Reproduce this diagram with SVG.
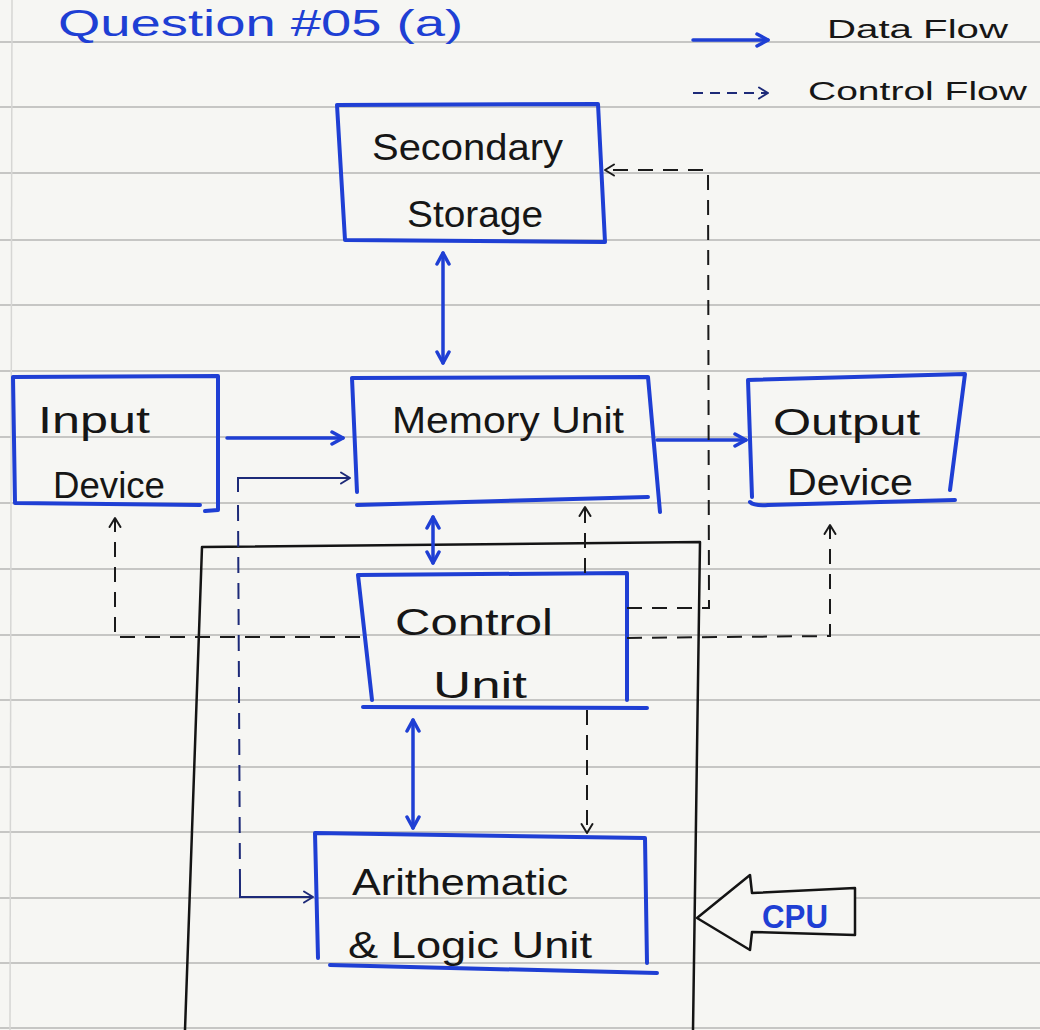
<svg xmlns="http://www.w3.org/2000/svg" width="1040" height="1030" viewBox="0 0 1040 1030">
  <defs>
    <style>
      .paper { fill: #f6f6f3; }
      .rule { stroke: #c6c6c4; stroke-width: 2; }
      .box { fill: none; stroke: #1f3fd4; stroke-width: 4; stroke-linecap: round; stroke-linejoin: round; }
      .lbl { font-family: "Liberation Sans", Arial, sans-serif; font-size: 36px; fill: #161616; }
      .data { fill: none; stroke: #1f3fd4; stroke-width: 3.5; stroke-linecap: round; }
      .ctrl { fill: none; stroke: #1a1a1a; stroke-width: 2; stroke-dasharray: 15 10; }
      .thin { fill: none; stroke: #1d2a78; stroke-width: 2; }
      .thind { fill: none; stroke: #1d2a78; stroke-width: 2; stroke-dasharray: 16 10; }
      .cpu { fill: none; stroke: #141414; stroke-width: 2.5; stroke-linejoin: round; }
    </style>
    <marker id="mData" viewBox="0 0 16 16" markerUnits="userSpaceOnUse" markerWidth="16" markerHeight="16" refX="14" refY="8" orient="auto-start-reverse">
      <path d="M3,2 L14,8 L3,14" fill="none" stroke="#1f3fd4" stroke-width="3.5" stroke-linecap="round" stroke-linejoin="round"/>
    </marker>
    <marker id="mCtrl" viewBox="0 0 14 14" markerUnits="userSpaceOnUse" markerWidth="14" markerHeight="14" refX="12" refY="7" orient="auto-start-reverse">
      <path d="M3,1.5 L12,7 L3,12.5" fill="none" stroke="#1a1a1a" stroke-width="2" stroke-linecap="round" stroke-linejoin="round"/>
    </marker>
    <marker id="mThin" viewBox="0 0 14 14" markerUnits="userSpaceOnUse" markerWidth="14" markerHeight="14" refX="12" refY="7" orient="auto-start-reverse">
      <path d="M3,1.5 L12,7 L3,12.5" fill="none" stroke="#1d2a78" stroke-width="2" stroke-linecap="round" stroke-linejoin="round"/>
    </marker>
  </defs>

  <!-- paper background -->
  <g id="paper">
    <rect class="paper" x="0" y="0" width="1040" height="1030"/>
    <line class="rule" x1="0" y1="42" x2="1040" y2="42"/>
    <line class="rule" x1="0" y1="107" x2="1040" y2="107"/>
    <line class="rule" x1="0" y1="173" x2="1040" y2="173"/>
    <line class="rule" x1="0" y1="240" x2="1040" y2="240"/>
    <line class="rule" x1="0" y1="305" x2="1040" y2="305"/>
    <line class="rule" x1="0" y1="371" x2="1040" y2="371"/>
    <line class="rule" x1="0" y1="437" x2="1040" y2="437"/>
    <line class="rule" x1="0" y1="503" x2="1040" y2="503"/>
    <line class="rule" x1="0" y1="569" x2="1040" y2="569"/>
    <line class="rule" x1="0" y1="635" x2="1040" y2="635"/>
    <line class="rule" x1="0" y1="700" x2="1040" y2="700"/>
    <line class="rule" x1="0" y1="767" x2="1040" y2="767"/>
    <line class="rule" x1="0" y1="832" x2="1040" y2="832"/>
    <line class="rule" x1="0" y1="898" x2="1040" y2="898"/>
    <line class="rule" x1="0" y1="963" x2="1040" y2="963"/>
    <line class="rule" x1="0" y1="1028" x2="1040" y2="1028"/>
    <line x1="12" y1="0" x2="10" y2="1030" stroke="#d6d6d4" stroke-width="1.5"/>
  </g>

  <!-- title and legend -->
  <g id="title">
    <text x="58" y="36" font-family="Liberation Sans, Arial, sans-serif" font-size="36" fill="#1e3fd4" textLength="405" lengthAdjust="spacingAndGlyphs">Question #05 (a)</text>
  </g>
  <g id="legend">
    <path class="data" d="M693,40 L768,40" marker-end="url(#mData)"/>
    <text x="827" y="38" font-family="Liberation Sans, Arial, sans-serif" font-size="25" fill="#161616" textLength="181" lengthAdjust="spacingAndGlyphs">Data Flow</text>
    <path d="M693,93 L768,93" fill="none" stroke="#1d2a78" stroke-width="2" stroke-dasharray="10 7" marker-end="url(#mThin)"/>
    <text x="808" y="100" font-family="Liberation Sans, Arial, sans-serif" font-size="25" fill="#161616" textLength="219" lengthAdjust="spacingAndGlyphs">Control Flow</text>
  </g>

  <!-- CPU enclosure -->
  <g id="cpu">
    <path class="cpu" d="M185,1030 L202,547 L700,542 L693,1030"/>
    <polygon points="697,918 750,875 752,893 855,888 855,935 752,932 750,950" fill="#f6f6f3" stroke="#141414" stroke-width="2.5" stroke-linejoin="round"/>
    <text x="795" y="928" font-family="Liberation Sans, Arial, sans-serif" font-size="34" font-weight="bold" fill="#1f3fd4" text-anchor="middle" textLength="66" lengthAdjust="spacingAndGlyphs">CPU</text>
  </g>

  <!-- nodes -->
  <g id="secondary-storage">
    <path class="box" d="M337,105 L598,104 L605,242 L345,240 Z"/>
    <text class="lbl" x="372" y="160" textLength="191" lengthAdjust="spacingAndGlyphs">Secondary</text>
    <text class="lbl" x="407" y="227" textLength="136" lengthAdjust="spacingAndGlyphs">Storage</text>
  </g>
  <g id="memory-unit">
    <path class="box" d="M357,492 L352,378 L648,377 L660,512"/>
    <path class="box" d="M357,505 L648,497"/>
    <text class="lbl" x="392" y="433" textLength="232" lengthAdjust="spacingAndGlyphs">Memory Unit</text>
  </g>
  <g id="input-device">
    <path class="box" d="M200,505 L15,503 L13,377 L218,376 L218,510 L205,511"/>
    <text class="lbl" x="38" y="433" textLength="112" lengthAdjust="spacingAndGlyphs">Input</text>
    <text class="lbl" x="53" y="498" textLength="112" lengthAdjust="spacingAndGlyphs">Device</text>
  </g>
  <g id="output-device">
    <path class="box" d="M752,497 L748,380 L965,374 L950,490"/>
    <path class="box" d="M750,502 Q754,506 768,505 L955,500"/>
    <text class="lbl" x="773" y="435" textLength="147" lengthAdjust="spacingAndGlyphs">Output</text>
    <text class="lbl" x="787" y="495" textLength="126" lengthAdjust="spacingAndGlyphs">Device</text>
  </g>
  <g id="control-unit">
    <path class="box" d="M372,700 L358,575 L627,573 L627,700"/>
    <path class="box" d="M363,707 L647,708"/>
    <text class="lbl" x="395" y="635" textLength="158" lengthAdjust="spacingAndGlyphs">Control</text>
    <text class="lbl" x="433" y="698" textLength="94" lengthAdjust="spacingAndGlyphs">Unit</text>
  </g>
  <g id="alu">
    <path class="box" d="M318,958 L315,833 L645,838 L647,963"/>
    <path class="box" d="M330,965 L657,973"/>
    <text class="lbl" x="352" y="895" textLength="216" lengthAdjust="spacingAndGlyphs">Arithematic</text>
    <text class="lbl" x="348" y="958" textLength="244" lengthAdjust="spacingAndGlyphs">&amp; Logic Unit</text>
  </g>

  <!-- connectors -->
  <g id="connectors">
    <!-- data flow -->
    <path class="data" d="M227,438 L343,438" marker-end="url(#mData)"/>
    <path class="data" d="M657,440 L746,440" marker-end="url(#mData)"/>
    <path class="data" d="M443,253 L443,363" marker-start="url(#mData)" marker-end="url(#mData)"/>
    <path class="data" d="M433,517 L433,563" marker-start="url(#mData)" marker-end="url(#mData)"/>
    <path class="data" d="M413,720 L413,828" marker-start="url(#mData)" marker-end="url(#mData)"/>
    <!-- control flow -->
    <path class="ctrl" d="M360,637 L115,637 L115,518" marker-end="url(#mCtrl)"/>
    <path class="ctrl" d="M627,638 L830,636 L830,525" marker-end="url(#mCtrl)"/>
    <path class="ctrl" d="M627,608 L709,608 L708,170 L605,170" marker-end="url(#mCtrl)"/>
    <path class="ctrl" d="M585,573 L585,507" marker-end="url(#mCtrl)"/>
    <path class="ctrl" d="M587,710 L587,833" marker-end="url(#mCtrl)"/>
    <!-- memory / ALU link -->
    <path class="thin" d="M238,492 L238,478 L350,478" marker-end="url(#mThin)"/>
    <path class="thind" d="M238,505 L240,884"/>
    <path class="thin" d="M240,884 L240,897 L313,897" marker-end="url(#mThin)"/>
  </g>
</svg>
